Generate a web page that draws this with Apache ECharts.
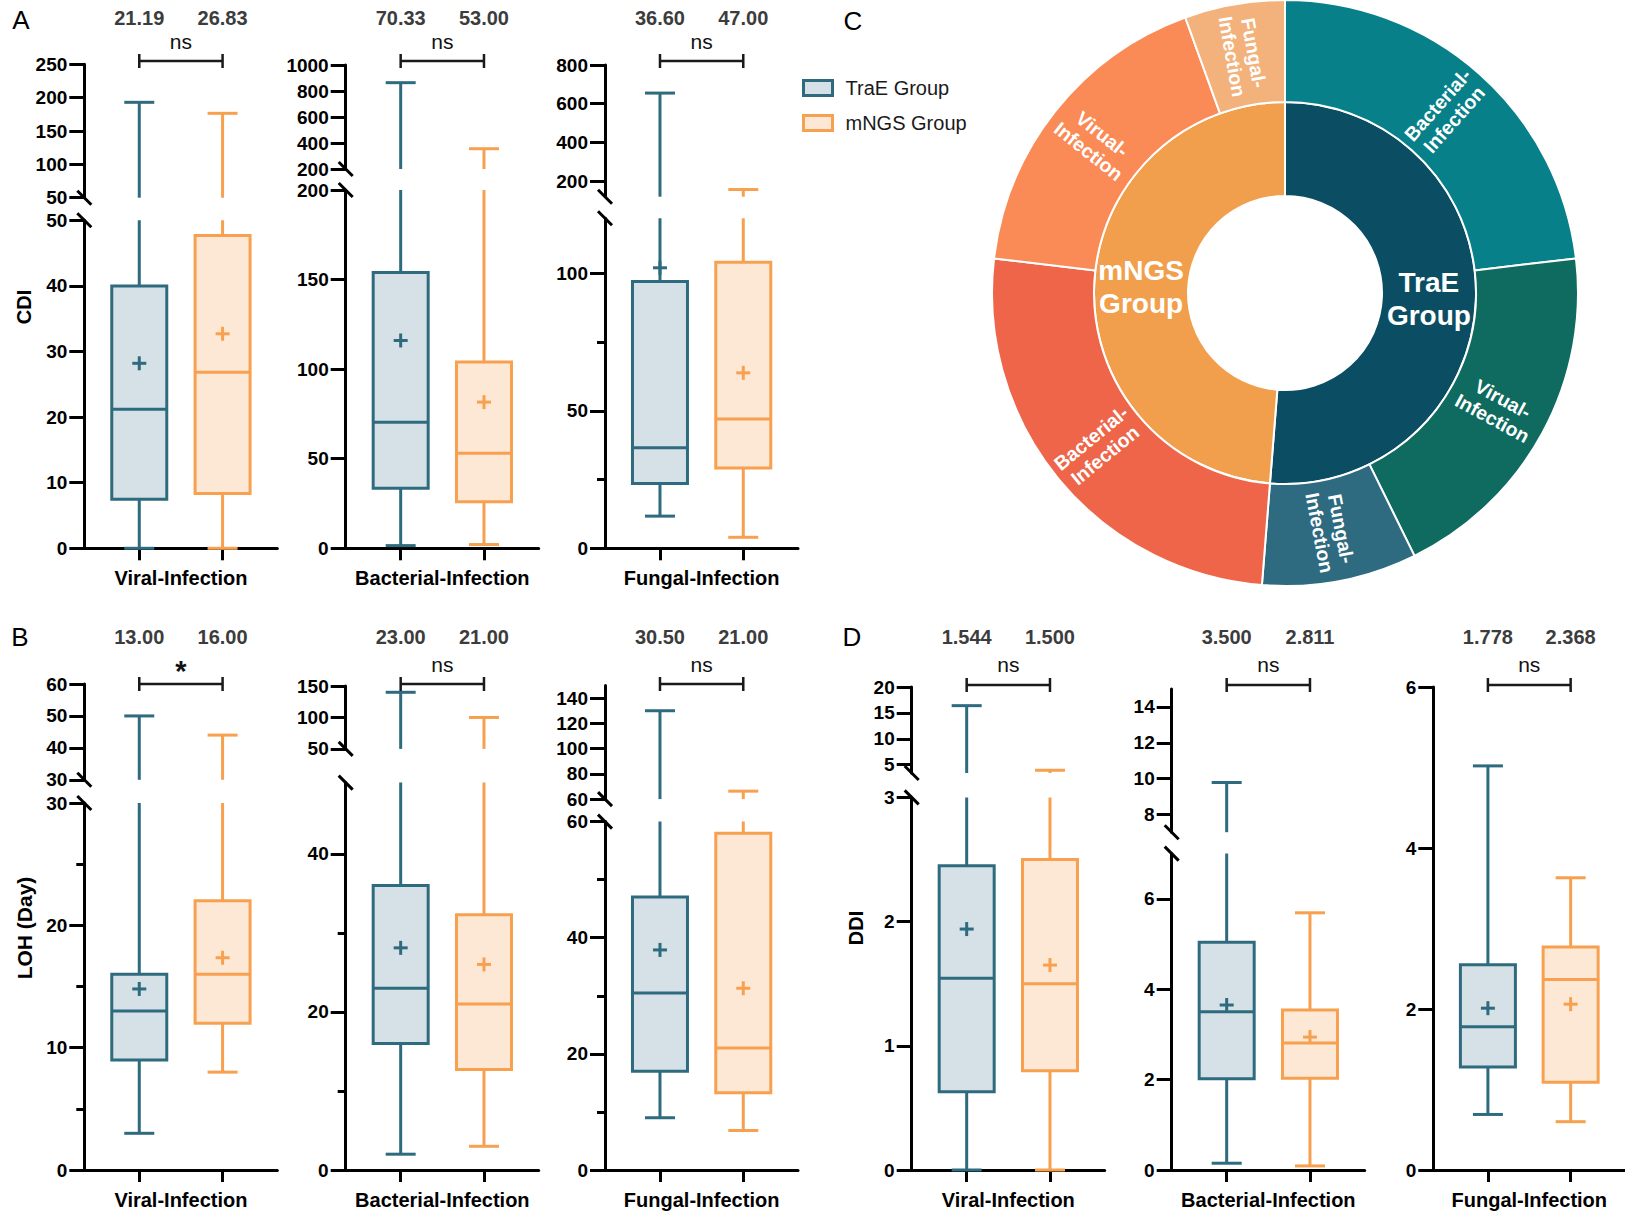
<!DOCTYPE html>
<html>
<head>
<meta charset="utf-8">
<script src="https://cdn.jsdelivr.net/npm/echarts@6/dist/echarts.min.js"></script>
<style>
  html, body { margin: 0; padding: 0; background: #fff; }
  #chart { width: 1625px; height: 1216px; }
</style>
</head>
<body>
<div id="chart"></div>
<script>
// ---------------- data ----------------
const groups = ['TraE Group', 'mNGS Group'];
const infections = ['Viral-Infection', 'Bacterial-Infection', 'Fungal-Infection'];

// sunburst: cases per infection type in each group
const ringLabels = ['Bacterial-Infection', 'Virual-Infection', 'Fungal-Infection'];
const ringTraE = [46, 39, 17];
const ringMngs = [51, 35, 11];

// five-number summaries [min, Q1, median, Q3, max], one row per infection type
const cdiTraE = [[0, 7.46, 21.19, 40, 193], [1.5, 33.5, 70.33, 154, 864], [11.7, 23.6, 36.6, 97, 655]];
const cdiMngs = [[0, 8.34, 26.83, 47.7, 176.5], [2.1, 26, 53, 104, 356], [4, 29.2, 47, 104, 157]];
const cdiMeanTraE = [28.2, 116, 102];
const cdiMeanMngs = [32.7, 81.6, 63.8];
const cdiSig = ['ns', 'ns', 'ns'];

const lohTraE = [[3, 9, 13, 16, 50], [2, 16, 23, 36, 140], [9, 17, 30.5, 47, 130]];
const lohMngs = [[8, 12, 16, 22, 44], [3, 12.7, 21, 32.3, 100], [6.8, 13.3, 21, 58, 66.3]];
const lohMeanTraE = [14.8, 28.1, 37.9];
const lohMeanMngs = [17.35, 26, 31.3];
const lohSig = ['*', 'ns', 'ns'];

const ddiTraE = [[0, 0.63, 1.544, 2.45, 16.4], [0.15, 2.02, 3.5, 5.04, 9.78], [0.69, 1.28, 1.778, 2.55, 5.02]];
const ddiMngs = [[0, 0.8, 1.5, 2.5, 3.93], [0.09, 2.03, 2.811, 3.54, 5.69], [0.6, 1.09, 2.368, 2.77, 3.63]];
const ddiMeanTraE = [1.94, 3.65, 2.01];
const ddiMeanMngs = [1.65, 2.94, 2.06];
const ddiSig = ['ns', 'ns', 'ns'];

// broken y axes: value range of the upper and lower part (null = unbroken axis)
const cdiUpperRange = [[50, 250], [200, 1000], [120, 800]];
const cdiLowerRange = [[0, 50], [0, 200], [0, 120]];
const cdiUpperTicks = [[50, 100, 150, 200, 250], [200, 400, 600, 800, 1000], [200, 400, 600, 800]];
const cdiLowerTicks = [[0, 10, 20, 30, 40, 50], [0, 50, 100, 150, 200], [0, 50, 100]];
const cdiMinorTicks = [[], [], [25, 75]];

const lohUpperRange = [[30, 60], [50, 150], [60, 150]];
const lohLowerRange = [[0, 30], [0, 49], [0, 60]];
const lohUpperTicks = [[30, 40, 50, 60], [50, 100, 150], [60, 80, 100, 120, 140]];
const lohLowerTicks = [[0, 10, 20, 30], [0, 20, 40], [0, 20, 40, 60]];
const lohMinorTicks = [[5, 15, 25], [10, 30], [10, 30, 50]];

const ddiUpperRange = [[3.4, 20], [7, 15], null];
const ddiLowerRange = [[0, 3], [0, 7], [0, 6]];
const ddiUpperTicks = [[5, 10, 15, 20], [8, 10, 12, 14], null];
const ddiLowerTicks = [[0, 1, 2, 3], [0, 2, 4, 6], [0, 2, 4, 6]];
const ddiMinorTicks = [[], [], []];

// ---------------- styling & layout ----------------
const FONT = "'Liberation Sans', Arial, Helvetica, sans-serif";
const COLORS = {
  'TraE Group': { stroke: '#2f6b7e', fill: '#d5e1e6' },
  'mNGS Group': { stroke: '#f7a04f', fill: '#fde8d6' }
};
const RING_COLORS = {
  'TraE Group': { inner: '#0b4e63', outer: ['#07808a', '#0f6b5f', '#2e6a80'] },
  'mNGS Group': { inner: '#f29f4d', outer: ['#ee6549', '#fa8a56', '#f3b27c'] }
};
const X_MIN = 0.34, X_MAX = 2.657, GRID_W = 193;
const BOX_W = 55, CAP_W = 30, MEAN_W = 14, LW = 3;

// y-axis left edge and pixel [top, bottom] of the upper / lower axis parts
const PANEL_LAYOUT = [
  [{ left: 84.3, up: [64.3, 197.7], low: [220.3, 548.3] },
   { left: 345.7, up: [65, 169], low: [190, 548.3] },
   { left: 605, up: [65, 196.7], low: [218.3, 548.3] }],
  [{ left: 84.3, up: [684, 779.8], low: [803, 1170] },
   { left: 345.7, up: [686, 748.9], low: [782.6, 1170] },
   { left: 605, up: [685.5, 799.1], low: [821.6, 1170] }],
  [{ left: 911.7, up: [687, 773], low: [797.4, 1170] },
   { left: 1171.7, up: [689.1, 832.2], low: [853.6, 1170] },
   { left: 1433.3, up: null, low: [687, 1170] }]
];
const ROW_TEXT = [{ med: 18, sig: 41, br: 61 }, { med: 637, sig: 664, br: 684 }, { med: 637, sig: 664, br: 685 }];

const measures = [
  { t: cdiTraE, m: cdiMngs, meanT: cdiMeanTraE, meanM: cdiMeanMngs, sig: cdiSig, digits: 2,
    upR: cdiUpperRange, lowR: cdiLowerRange, upT: cdiUpperTicks, lowT: cdiLowerTicks, minor: cdiMinorTicks },
  { t: lohTraE, m: lohMngs, meanT: lohMeanTraE, meanM: lohMeanMngs, sig: lohSig, digits: 2,
    upR: lohUpperRange, lowR: lohLowerRange, upT: lohUpperTicks, lowT: lohLowerTicks, minor: lohMinorTicks },
  { t: ddiTraE, m: ddiMngs, meanT: ddiMeanTraE, meanM: ddiMeanMngs, sig: ddiSig, digits: 3,
    upR: ddiUpperRange, lowR: ddiLowerRange, upT: ddiUpperTicks, lowT: ddiLowerTicks, minor: ddiMinorTicks }
];

const grids = [], xAxes = [], yAxes = [], series = [];

function addGrid(top, bottom, left, range, ticks, minor, showX, label) {
  const gi = grids.length;
  grids.push({ left: left, top: top, width: GRID_W, height: bottom - top });
  xAxes.push({
    gridIndex: gi, type: 'value', min: X_MIN, max: X_MAX, show: showX,
    axisLine: { show: true, onZero: false, lineStyle: { color: '#000', width: LW } },
    axisTick: { show: true, length: 12, lineStyle: { color: '#000', width: LW }, customValues: [1, 2] },
    axisLabel: { show: true, customValues: [1.5], formatter: function () { return label; },
      margin: 20, fontSize: 20, fontWeight: 'bold', color: '#000', fontFamily: FONT },
    splitLine: { show: false }
  });
  const yi = yAxes.length;
  yAxes.push({
    gridIndex: gi, type: 'value', min: range[0], max: range[1], position: 'left',
    axisLine: { show: true, onZero: false, lineStyle: { color: '#000', width: LW } },
    axisTick: { show: true, length: 15, lineStyle: { color: '#000', width: LW }, customValues: ticks },
    axisLabel: { customValues: ticks, margin: 17, fontSize: 19, fontWeight: 'bold', color: '#000', fontFamily: FONT,
      formatter: function (v) { return String(v); } },
    splitLine: { show: false }
  });
  if (minor && minor.length) {
    yAxes.push({
      gridIndex: gi, type: 'value', min: range[0], max: range[1], position: 'left',
      axisLine: { show: false }, axisLabel: { show: false }, splitLine: { show: false },
      axisTick: { show: true, length: 8, lineStyle: { color: '#000', width: LW }, customValues: minor }
    });
  }
  return { gi: gi, yi: yi };
}

function seg(x1, y1, x2, y2, color) {
  return { type: 'line', shape: { x1: x1, y1: y1, x2: x2, y2: y2 }, style: { stroke: color, lineWidth: LW } };
}

// box, whiskers, median and mean, kept inside one part of a broken axis
function boxRenderer(range, col) {
  const lo = range[0], hi = range[1];
  const inside = v => v >= lo && v <= hi;
  return function (params, api) {
    const x = api.value(0);
    const vmin = api.value(1), q1 = api.value(2), med = api.value(3), q3 = api.value(4), vmax = api.value(5), mean = api.value(6);
    const cx = api.coord([x, lo])[0];
    const yOf = v => api.coord([x, v])[1];
    const kids = [];
    const a = Math.max(vmin, lo), b = Math.min(vmax, hi);
    if (b > a) kids.push(seg(cx, yOf(a), cx, yOf(b), col.stroke));
    if (inside(vmin)) kids.push(seg(cx - CAP_W / 2, yOf(vmin), cx + CAP_W / 2, yOf(vmin), col.stroke));
    if (inside(vmax)) kids.push(seg(cx - CAP_W / 2, yOf(vmax), cx + CAP_W / 2, yOf(vmax), col.stroke));
    const b1 = Math.max(q1, lo), b3 = Math.min(q3, hi);
    if (b3 > b1) {
      kids.push({ type: 'rect', shape: { x: cx - BOX_W / 2, y: yOf(b3), width: BOX_W, height: yOf(b1) - yOf(b3) },
        style: { fill: col.fill, stroke: col.stroke, lineWidth: LW } });
    }
    if (inside(med)) kids.push(seg(cx - BOX_W / 2, yOf(med), cx + BOX_W / 2, yOf(med), col.stroke));
    if (inside(mean)) {
      const my = yOf(mean);
      kids.push(seg(cx - MEAN_W / 2, my, cx + MEAN_W / 2, my, col.stroke));
      kids.push(seg(cx, my - MEAN_W / 2, cx, my + MEAN_W / 2, col.stroke));
    }
    return { type: 'group', children: kids };
  };
}

function textEl(x, y, text, size, weight, color) {
  return { type: 'text', x: x, y: y,
    style: { text: text, fontSize: size, fontWeight: weight, fontFamily: FONT, fill: color,
      align: 'center', verticalAlign: 'middle', textAlign: 'center', textVerticalAlign: 'middle' } };
}

// axis-break slashes, median values, significance bracket
function decorRenderer(o) {
  return function (params, api) {
    const cs = params.coordSys;
    const kids = [];
    const slash = (x, y) => seg(x - 7, y - 7, x + 7, y + 7, '#000');
    if (o.breakBottom) kids.push(slash(cs.x, cs.y + cs.height));
    if (o.breakTop) kids.push(slash(cs.x, cs.y));
    if (o.annot) {
      const A = o.annot, r = A.row;
      const x1 = api.coord([1, o.range[0]])[0], x2 = api.coord([2, o.range[0]])[0];
      kids.push(textEl(x1, r.med, A.medT.toFixed(A.digits), 20, 'bold', '#3c3c3c'));
      kids.push(textEl(x2, r.med, A.medM.toFixed(A.digits), 20, 'bold', '#3c3c3c'));
      if (A.sig === '*') kids.push(textEl((x1 + x2) / 2, r.sig + 7, A.sig, 29, 'bold', '#111'));
      else kids.push(textEl((x1 + x2) / 2, r.sig, A.sig, 21, 'normal', '#111'));
      const bs = { stroke: '#1a1a1a', lineWidth: 2.5 };
      kids.push({ type: 'line', shape: { x1: x1, y1: r.br, x2: x2, y2: r.br }, style: bs });
      kids.push({ type: 'line', shape: { x1: x1, y1: r.br - 7, x2: x1, y2: r.br + 7 }, style: bs });
      kids.push({ type: 'line', shape: { x1: x2, y1: r.br - 7, x2: x2, y2: r.br + 7 }, style: bs });
    }
    return { type: 'group', children: kids };
  };
}

measures.forEach(function (ms, mi) {
  infections.forEach(function (inf, ii) {
    const L = PANEL_LAYOUT[mi][ii];
    const upR = ms.upR[ii];
    const hasBreak = !!upR;
    const annot = { medT: ms.t[ii][2], medM: ms.m[ii][2], sig: ms.sig[ii], digits: ms.digits, row: ROW_TEXT[mi] };
    const parts = [];
    if (hasBreak) parts.push({ px: L.up, range: upR, ticks: ms.upT[ii], minor: [], showX: false, role: 'upper' });
    parts.push({ px: L.low, range: ms.lowR[ii], ticks: ms.lowT[ii], minor: ms.minor[ii], showX: true,
      role: hasBreak ? 'lower' : 'single' });
    parts.forEach(function (p, pi) {
      const ax = addGrid(p.px[0], p.px[1], L.left, p.range, p.ticks, p.minor, p.showX, inf);
      [ms.t, ms.m].forEach(function (src, g) {
        const mean = g === 0 ? ms.meanT[ii] : ms.meanM[ii];
        series.push({
          type: 'custom', name: groups[g], coordinateSystem: 'cartesian2d',
          xAxisIndex: ax.gi, yAxisIndex: ax.yi, silent: true, z: 3,
          data: [[g + 1].concat(src[ii], [mean])],
          encode: { x: 0, y: [1, 2, 3, 4, 5, 6] },
          renderItem: boxRenderer(p.range, COLORS[groups[g]])
        });
      });
      series.push({
        type: 'custom', coordinateSystem: 'cartesian2d', xAxisIndex: ax.gi, yAxisIndex: ax.yi,
        silent: true, z: 4, data: [[1.5, p.range[0]]], encode: { x: 0, y: 1 },
        renderItem: decorRenderer({ breakBottom: p.role === 'upper', breakTop: p.role === 'lower',
          annot: pi === 0 ? annot : null, range: p.range })
      });
    });
  });
});

// panel C: group / infection sunburst
function ringChildren(g, counts) {
  return ringLabels.map(function (n, k) {
    return { name: n, value: counts[k], itemStyle: { color: RING_COLORS[g].outer[k] } };
  });
}
series.push({
  type: 'sunburst', center: [1285, 293], radius: [97, 293], sort: null, nodeClick: false,
  startAngle: 90, clockwise: true, silent: true,
  itemStyle: { borderColor: '#fff', borderWidth: 2 },
  emphasis: { focus: 'none' },
  label: { color: '#fff', fontFamily: FONT, fontWeight: 'bold',
    formatter: function (p) { return p.name.replace(' ', '\n').replace('-', '-\n'); } },
  levels: [
    {},
    { r0: 97, r: 191, label: { rotate: 0, fontSize: 28, lineHeight: 33 } },
    { r0: 191, r: 293, label: { rotate: 'radial', fontSize: 19.5, lineHeight: 22 } }
  ],
  data: [
    { name: groups[0], itemStyle: { color: RING_COLORS[groups[0]].inner }, children: ringChildren(groups[0], ringTraE) },
    { name: groups[1], itemStyle: { color: RING_COLORS[groups[1]].inner }, children: ringChildren(groups[1], ringMngs) }
  ]
});

function gText(x, y, text, size, weight, rot) {
  return { type: 'text', x: x, y: y, rotation: rot || 0, silent: true,
    style: { text: text, fontSize: size, fontWeight: weight, fontFamily: FONT, fill: '#000',
      align: 'center', verticalAlign: 'middle', textAlign: 'center', textVerticalAlign: 'middle' } };
}

const chart = echarts.init(document.getElementById('chart'), null, { renderer: 'svg' });
chart.setOption({
  backgroundColor: '#fff',
  animation: false,
  grid: grids, xAxis: xAxes, yAxis: yAxes, series: series,
  legend: {
    left: 797, top: 73, orient: 'vertical', icon: 'rect', itemWidth: 29, itemHeight: 15, itemGap: 15,
    selectedMode: false,
    textStyle: { fontSize: 20, color: '#1a1a1a', fontFamily: FONT, padding: [0, 0, 0, 8] },
    data: groups.map(function (g) {
      return { name: g, itemStyle: { color: COLORS[g].fill, borderColor: COLORS[g].stroke, borderWidth: 3 } };
    })
  },
  graphic: [
    gText(21, 20, 'A', 26, 'normal'),
    gText(20, 637, 'B', 26, 'normal'),
    gText(853, 21, 'C', 26, 'normal'),
    gText(852, 637, 'D', 26, 'normal'),
    gText(24, 307, 'CDI', 20, 'bold', Math.PI / 2),
    gText(24, 928, 'LOH (Day)', 21, 'bold', Math.PI / 2),
    gText(856, 928, 'DDI', 20, 'bold', Math.PI / 2)
  ]
});
</script>
</body>
</html>
